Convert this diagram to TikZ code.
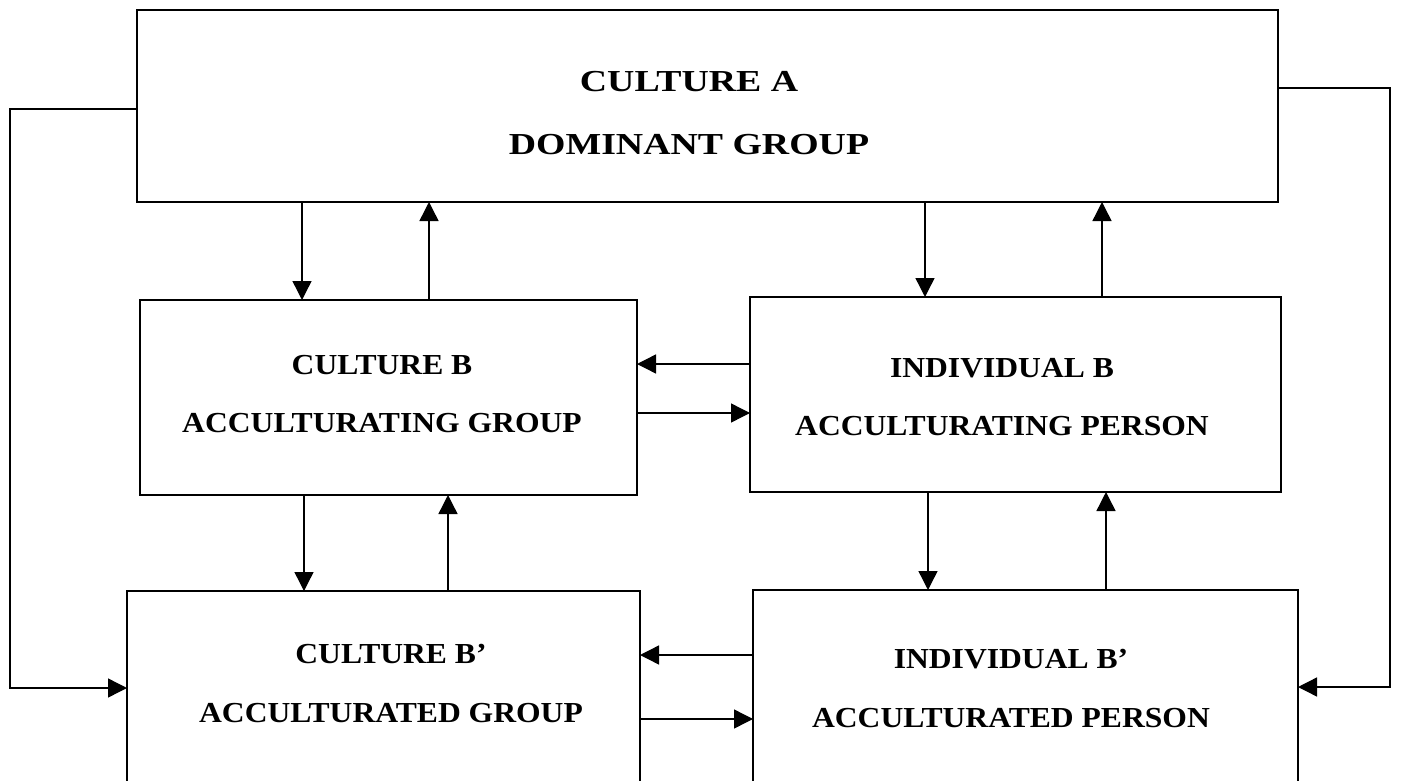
\documentclass[tikz,border=0pt]{standalone}
\usepackage{fontspec}
\newfontfamily\topfont{Liberation Serif}[FakeStretch=1.24]
\newfontfamily\lowfont{Liberation Serif}[FakeStretch=1.09]
\usetikzlibrary{arrows.meta}
\tikzset{
  box/.style={draw=black, line width=1.8pt, inner sep=0pt, outer sep=0pt, fill=none},
  toptxt/.style={anchor=base, inner sep=0pt, font=\topfont\bfseries\fontsize{30.5}{37}\selectfont},
  lowtxt/.style={anchor=base, inner sep=0pt, font=\lowfont\bfseries\fontsize{29}{35}\selectfont},
  arr/.style={line width=1.4pt, -{Triangle[length=19pt,width=19pt]}},
}
\begin{document}
\begin{tikzpicture}[x=1pt,y=-1pt]
\useasboundingbox (0,0) rectangle (1403,781);
\clip (0,0) rectangle (1403,781);
\fill[white] (0,0) rectangle (1403,781);

% boxes
\node[box, minimum width=1141pt, minimum height=192pt] (A) at (707.5,106) {};
\node[box, minimum width=497pt, minimum height=195pt] (B) at (388.5,397.5) {};
\node[box, minimum width=531pt, minimum height=195pt] (C) at (1015.5,394.5) {};
\node[box, minimum width=513pt, minimum height=209pt] (D) at (383.5,695.5) {};
\node[box, minimum width=545pt, minimum height=210pt] (E) at (1025.5,695) {};

% texts
\node[toptxt] (A1) at (689,92) {CULTURE A};
\node[toptxt] (A2) at (689,155) {DOMINANT GROUP};
\node[lowtxt] (B1) at (382,374) {CULTURE B};
\node[lowtxt] (B2) at (382,432) {ACCULTURATING GROUP};
\node[lowtxt] (C1) at (1002,377) {INDIVIDUAL B};
\node[lowtxt] (C2) at (1002,435) {ACCULTURATING PERSON};
\node[lowtxt] (D1) at (391,663) {CULTURE B’};
\node[lowtxt] (D2) at (391,722) {ACCULTURATED GROUP};
\node[lowtxt] (E1) at (1011,668) {INDIVIDUAL B’};
\node[lowtxt] (E2) at (1011,727) {ACCULTURATED PERSON};

% guide coordinates
\coordinate (x1) at (302,0);
\coordinate (x2) at (429,0);
\coordinate (x3) at (925,0);
\coordinate (x4) at (1102,0);
\coordinate (x5) at (304,0);
\coordinate (x6) at (448,0);
\coordinate (x7) at (928,0);
\coordinate (x8) at (1106,0);
\coordinate (y1) at (0,364);
\coordinate (y2) at (0,413);
\coordinate (y3) at (0,655);
\coordinate (y4) at (0,719);
\coordinate (yl) at (0,109);
\coordinate (yr) at (0,88);
\coordinate (ylb) at (0,688);
\coordinate (yrb) at (0,687);
\coordinate (lc) at (10,0);
\coordinate (rc) at (1390,0);

% vertical arrows
\draw[arr] (A.south -| x1) -- (B.north -| x1);
\draw[arr] (B.north -| x2) -- (A.south -| x2);
\draw[arr] (A.south -| x3) -- (C.north -| x3);
\draw[arr] (C.north -| x4) -- (A.south -| x4);
\draw[arr] (B.south -| x5) -- (D.north -| x5);
\draw[arr] (D.north -| x6) -- (B.south -| x6);
\draw[arr] (C.south -| x7) -- (E.north -| x7);
\draw[arr] (E.north -| x8) -- (C.south -| x8);

% horizontal arrows
\draw[arr] (C.west |- y1) -- (B.east |- y1);
\draw[arr] (B.east |- y2) -- (C.west |- y2);
\draw[arr] (E.west |- y3) -- (D.east |- y3);
\draw[arr] (D.east |- y4) -- (E.west |- y4);

% outer loops
\draw[arr] (A.west |- yl) -- (lc |- yl) -- (lc |- ylb) -- (D.west |- ylb);
\draw[arr] (A.east |- yr) -- (rc |- yr) -- (rc |- yrb) -- (E.east |- yrb);
\end{tikzpicture}
\end{document}
